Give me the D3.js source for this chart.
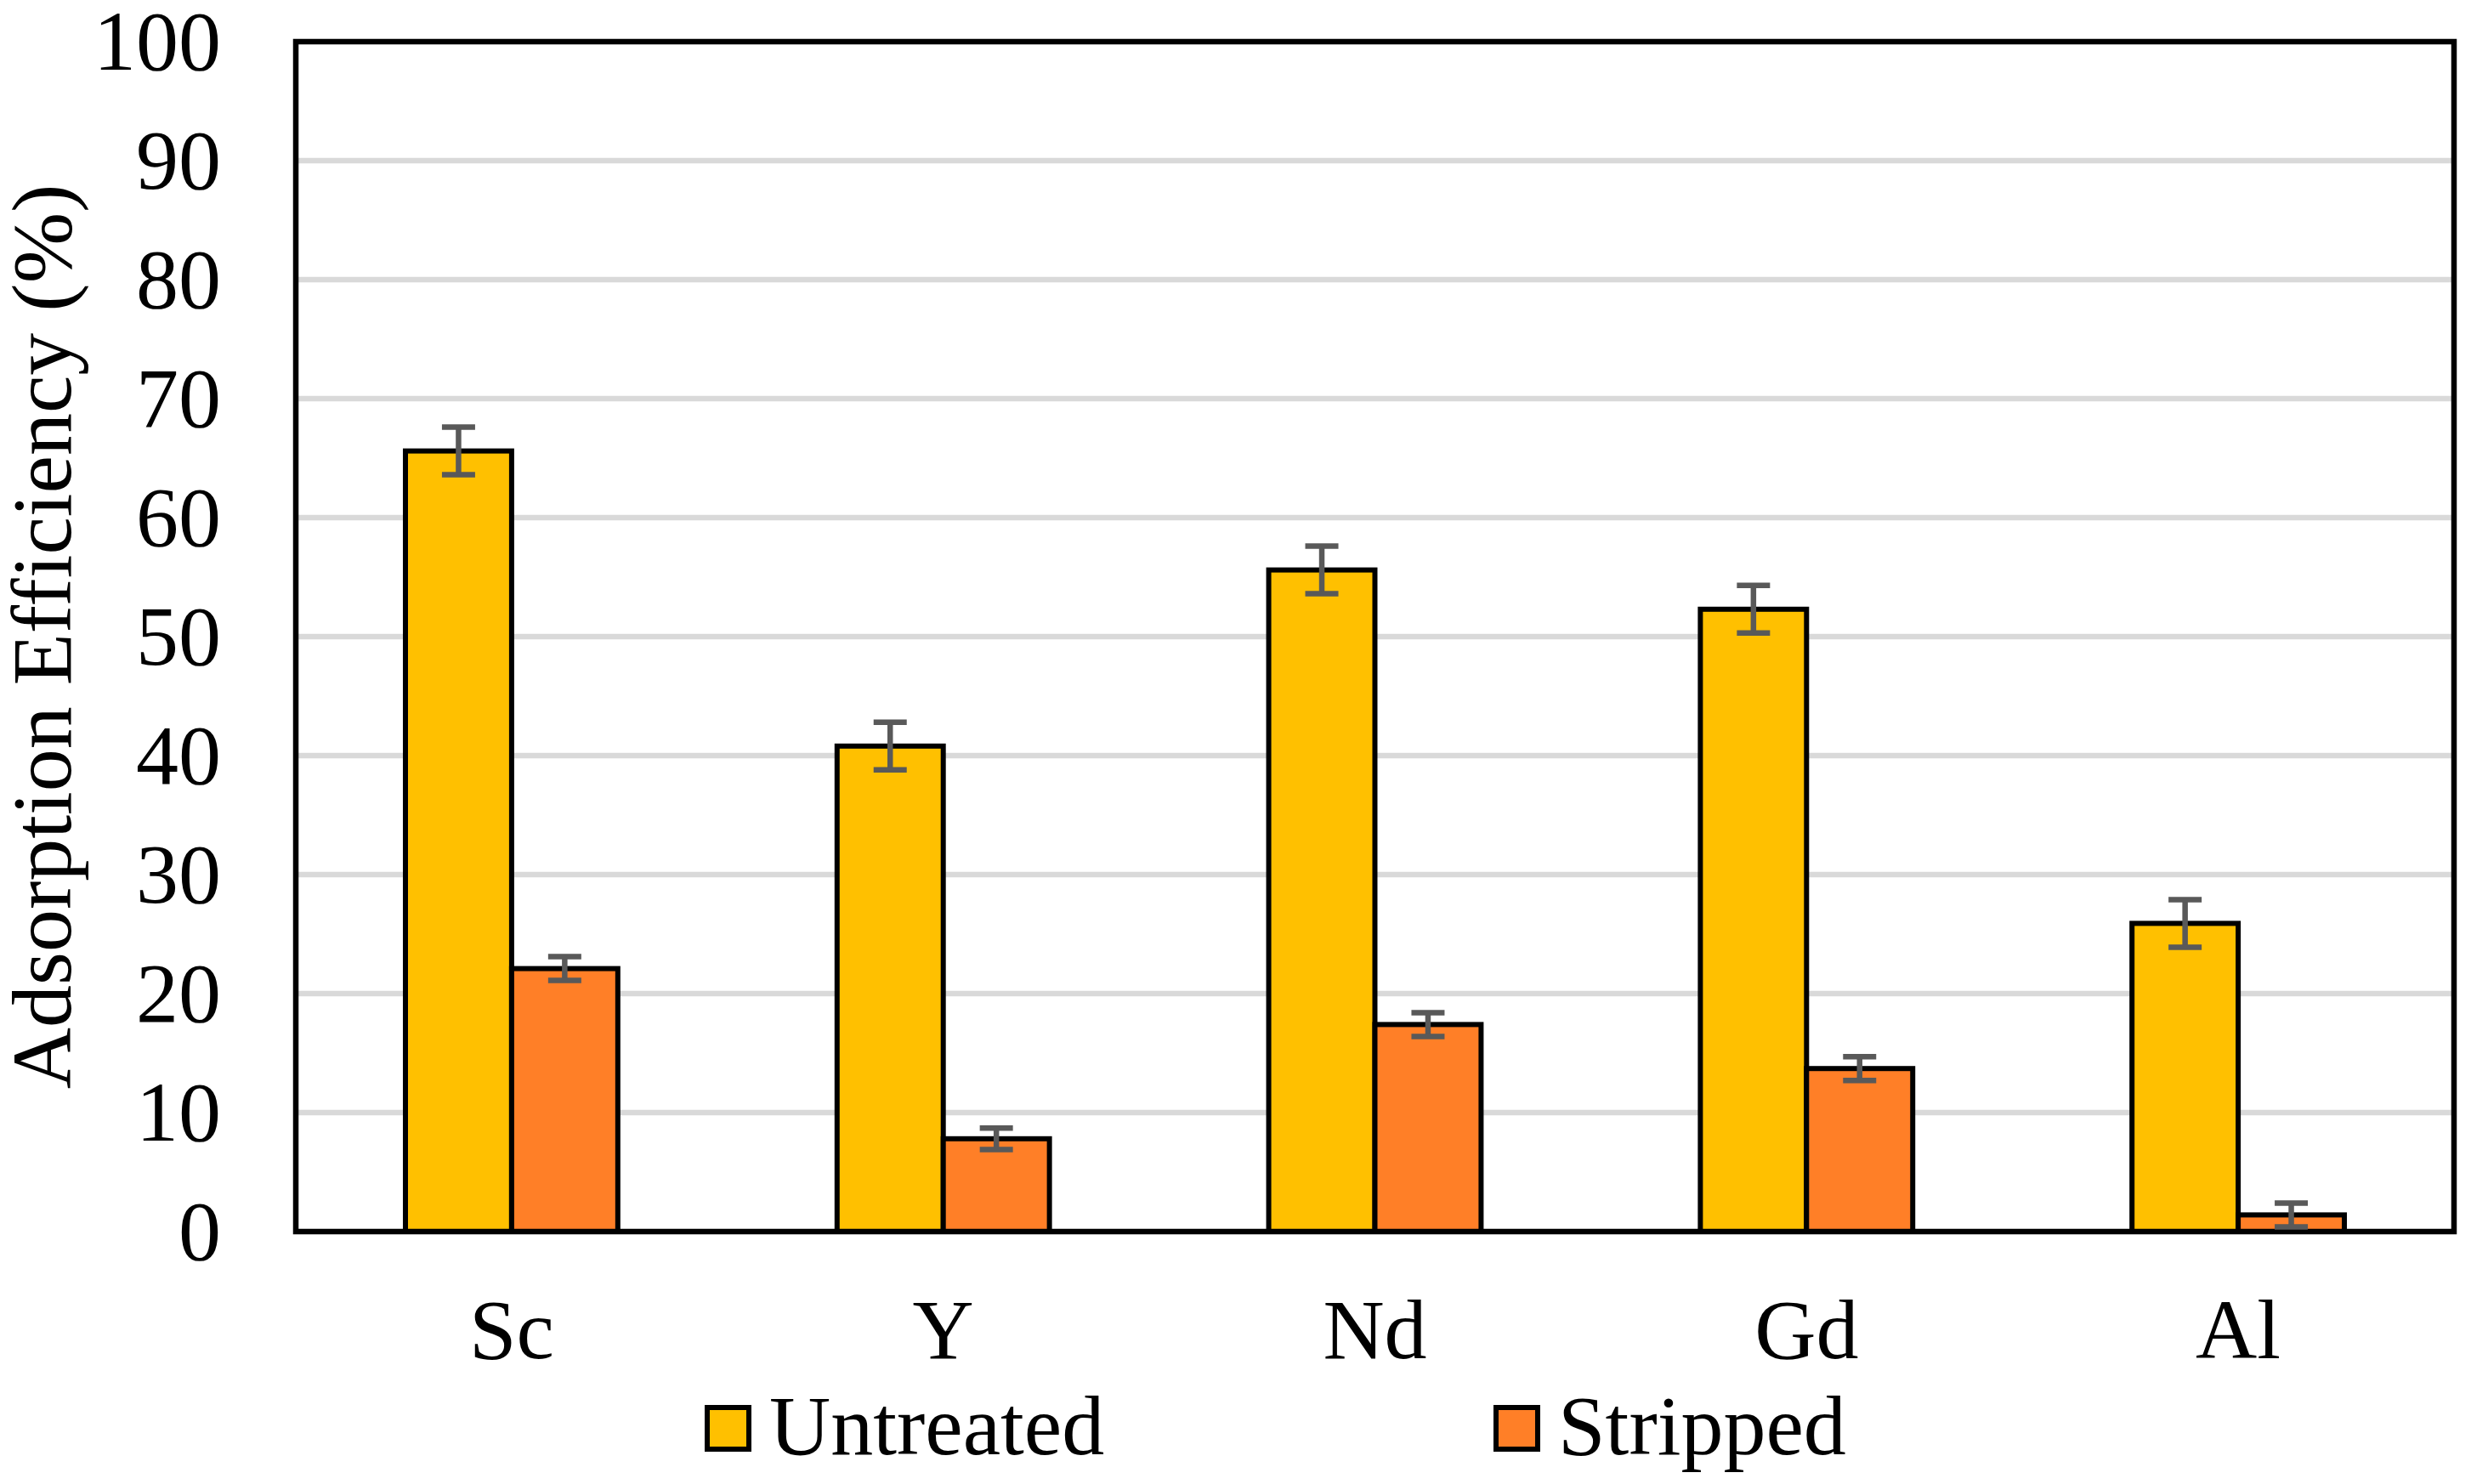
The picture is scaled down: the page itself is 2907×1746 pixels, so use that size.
<!DOCTYPE html>
<html>
<head>
<meta charset="utf-8">
<script src="https://cdn.jsdelivr.net/npm/d3@7/dist/d3.min.js"></script>
<style>
  html, body { margin: 0; padding: 0; background: #fff; }
  svg { display: block; }
  text { font-family: "Liberation Serif", "Times New Roman", serif; fill: #000; }
</style>
</head>
<body>
<svg id="chart" width="2907" height="1746"></svg>
<script>
// ---- data ----
const categories = ["Sc", "Y", "Nd", "Gd", "Al"];
const seriesNames = ["Untreated", "Stripped"];
const untreated = [65.6, 40.8, 55.6, 52.3, 25.9];
const stripped = [22.1, 7.8, 17.4, 13.7, 1.4];
const untreatedErr = [2.0, 2.0, 2.0, 2.0, 2.0];
const strippedErr = [1.0, 0.9, 1.0, 1.0, 1.0];
const yTicks = [0, 10, 20, 30, 40, 50, 60, 70, 80, 90, 100];
const colors = ["#FFC000", "#FF7F27"];
const yTitle = "Adsorption Efficiency (%)";

// ---- layout ----
const W = 2907, H = 1746;
const pLeft = 348, pRight = 2887, pTop = 49, pBottom = 1449;
const svg = d3.select("#chart");
svg.append("rect").attr("width", W).attr("height", H).attr("fill", "#fff");

const x0 = d3.scaleBand().domain(categories).range([pLeft, pRight])
  .paddingInner(0.508).paddingOuter(0.254);
const x1 = d3.scaleBand().domain(seriesNames).range([0, x0.bandwidth()]).padding(0);
const y = d3.scaleLinear().domain([0, 100]).range([pBottom, pTop]);

const values = [untreated, stripped];
const errs = [untreatedErr, strippedErr];
const rows = [];
categories.forEach((c, i) => {
  seriesNames.forEach((s, j) => {
    rows.push({cat: c, series: s, j: j, v: values[j][i], e: errs[j][i]});
  });
});

// gridlines
svg.append("g").selectAll("line").data(yTicks.filter(t => t > 0 && t < 100)).join("line")
  .attr("x1", pLeft).attr("x2", pRight)
  .attr("y1", d => y(d)).attr("y2", d => y(d))
  .attr("stroke", "#D9D9D9").attr("stroke-width", 6.5);

// bars
svg.append("g").selectAll("rect").data(rows).join("rect")
  .attr("x", d => x0(d.cat) + x1(d.series))
  .attr("width", x1.bandwidth())
  .attr("y", d => y(d.v))
  .attr("height", d => y(0) - y(d.v))
  .attr("fill", d => colors[d.j])
  .attr("stroke", "#000").attr("stroke-width", 6)
  .attr("stroke-linejoin", "miter");

// frame
svg.append("rect").attr("x", pLeft).attr("y", pTop)
  .attr("width", pRight - pLeft).attr("height", pBottom - pTop)
  .attr("fill", "none").attr("stroke", "#000").attr("stroke-width", 6.5);

// error bars
const eg = svg.append("g").attr("stroke", "#595959").attr("stroke-width", 6.5);
const capW = 39;
rows.forEach(d => {
  const cx = x0(d.cat) + x1(d.series) + x1.bandwidth() / 2;
  const yt = y(d.v + d.e), yb = y(d.v - d.e);
  eg.append("line").attr("x1", cx).attr("x2", cx).attr("y1", yt).attr("y2", yb);
  eg.append("line").attr("x1", cx - capW / 2).attr("x2", cx + capW / 2).attr("y1", yt).attr("y2", yt);
  eg.append("line").attr("x1", cx - capW / 2).attr("x2", cx + capW / 2).attr("y1", yb).attr("y2", yb);
});

// y axis labels
const yAxis = d3.axisLeft(y).tickValues(yTicks).tickSize(0).tickPadding(88).tickFormat(d3.format("d"));
const ya = svg.append("g").attr("transform", `translate(${pLeft},0)`).call(yAxis);
ya.select(".domain").remove();
ya.selectAll("text").attr("font-size", 100).attr("font-family", "Liberation Serif").attr("fill", "#000");

// x axis labels
const xAxis = d3.axisBottom(x0).tickSize(0).tickPadding(78);
const xa = svg.append("g").attr("transform", `translate(0,${pBottom})`).call(xAxis);
xa.select(".domain").remove();
xa.selectAll("text").attr("font-size", 100).attr("font-family", "Liberation Serif").attr("fill", "#000");

// y title
svg.append("text")
  .attr("transform", `translate(83,${(pTop + pBottom) / 2}) rotate(-90)`)
  .attr("text-anchor", "middle")
  .attr("font-size", 100)
  .text(yTitle);

// legend
const legendX = [832, 1760];
const lg = svg.append("g");
seriesNames.forEach((s, j) => {
  lg.append("rect").attr("x", legendX[j]).attr("y", 1656).attr("width", 49).attr("height", 49)
    .attr("fill", colors[j]).attr("stroke", "#000").attr("stroke-width", 6);
  lg.append("text").attr("x", legendX[j] + 73).attr("y", 1711).attr("font-size", 100).text(s);
});
</script>
</body>
</html>
